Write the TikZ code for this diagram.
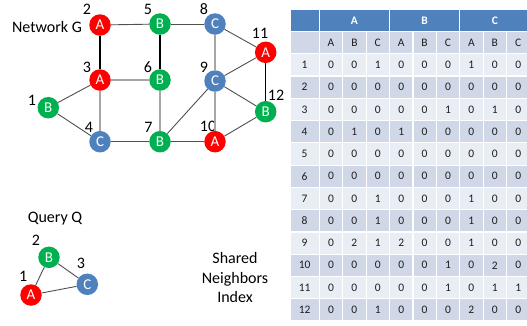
\documentclass[tikz,border=0pt]{standalone}
\usepackage{fontspec}
\setmainfont{Carlito}
\definecolor{nred}{HTML}{FF0000}
\definecolor{ngreen}{HTML}{00B050}
\definecolor{nblue}{HTML}{4F81BD}
\definecolor{hdr}{HTML}{4F81BD}
\definecolor{rowdark}{HTML}{D0D8E8}
\definecolor{rowlight}{HTML}{E9EDF4}
\definecolor{edgedark}{HTML}{505050}
\definecolor{edgelight}{HTML}{A6A6A6}
\definecolor{celltext}{HTML}{1E1E1E}
\tikzset{
  gnode/.style={circle, minimum size=21.5pt, inner sep=0pt, text=white, font=\fontsize{15}{15}\selectfont},
  anode/.style={gnode, fill=nred},
  bnode/.style={gnode, fill=ngreen},
  cnode/.style={gnode, fill=nblue},
  numlabel/.style={inner sep=0pt, font=\fontsize{16}{16}\selectfont},
  caption/.style={inner sep=0pt, font=\fontsize{16}{16}\selectfont},
  edark/.style={draw=edgedark, line width=0.9pt},
  elight/.style={draw=edgelight, line width=1.4pt},
  eblack/.style={draw=black, line width=1.2pt},
  celltxt/.style={inner sep=0pt, text=celltext, font=\fontsize{11.5}{12}\selectfont},
  hdrtxt/.style={inner sep=0pt, text=white, font=\fontsize{11.5}{12}\selectfont\bfseries},
}
\begin{document}
\begin{tikzpicture}[x=1pt,y=-1pt]
\clip (0,0) rectangle (527,325);
\fill[white] (0,0) rectangle (527,325);

% ---------- Network G ----------
\node[caption, anchor=base] (netG) at (47,32.3) {Network G};
\node[bnode] (g1) at (48.3,107.7) {B};
\node[anode] (g2) at (100,25) {A};
\node[anode] (g3) at (100,80) {A};
\node[cnode] (g4) at (100,141.7) {C};
\node[bnode] (g5) at (160,24) {B};
\node[bnode] (g6) at (160,80) {B};
\node[bnode] (g7) at (160,141.7) {B};
\node[cnode] (g8) at (215,24) {C};
\node[cnode] (g9) at (215,81) {C};
\node[anode] (g10) at (215,141.7) {A};
\node[anode] (g11) at (265.7,52.3) {A};
\node[bnode] (g12) at (265.7,111.7) {B};

\node[numlabel] (l1) at (32,100) {1};
\node[numlabel] (l2) at (87,9.5) {2};
\node[numlabel] (l3) at (87,67.5) {3};
\node[numlabel] (l4) at (89,127) {4};
\node[numlabel] (l5) at (148,9.5) {5};
\node[numlabel] (l6) at (148,67.5) {6};
\node[numlabel] (l7) at (148.5,127) {7};
\node[numlabel] (l8) at (204,9.5) {8};
\node[numlabel] (l9) at (204,67.5) {9};
\node[numlabel] (l10) at (208,126) {10};
\node[numlabel] (l11) at (260,33) {11};
\node[numlabel] (l12) at (276,95.5) {12};

\draw[edark] (g2) -- (g5);
\draw[edark] (g5) -- (g8);
\draw[eblack] (g2) -- (g3);
\draw[eblack] (g5) -- (g6);
\draw[elight] (g8) -- (g9);
\draw[edark] (g8) -- (g11);
\draw[elight] (g3) -- (g6);
\draw[edark] (g3) -- (g1);
\draw[elight] (g3) -- (g4);
\draw[elight] (g6) -- (g7);
\draw[edark] (g9) -- (g11);
\draw[edark] (g9) -- (g12);
\draw[edark] (g9) -- (g7);
\draw[elight] (g9) -- (g10);
\draw[eblack] (g11) -- (g12);
\draw[edark] (g1) -- (g4);
\draw[edark] (g4) -- (g7);
\draw[edark] (g7) -- (g10);
\draw[edark] (g10) -- (g12);

% ---------- Query Q ----------
\node[caption, anchor=base] (qQ) at (55,222.7) {Query Q};
\node[bnode] (qb) at (49,257.3) {B};
\node[cnode] (qc) at (87.3,284.3) {C};
\node[anode] (qa) at (31,295) {A};
\node[numlabel] (q2) at (36,240) {2};
\node[numlabel] (q3) at (81,263.3) {3};
\node[numlabel] (q1) at (23.3,276.7) {1};
\draw[edark] (qa) -- (qb);
\draw[edark] (qb) -- (qc);
\draw[edark] (qa) -- (qc);

\node[caption, align=center, font=\fontsize{16}{19.7}\selectfont] (sni) at (235,277.6) {Shared\\Neighbors\\Index};

% ---------- Table ----------
\def\tx{290}\def\fc{29.3}\def\cw{23.4}\def\ty{9.3}\def\rh{22.26}\def\gp{0.6}
% header row
\fill[hdr] (\tx+\gp,\ty+\gp) rectangle (\tx+\fc-\gp,\ty+\rh-\gp);
\foreach \g/\lab in {0/A,1/B,2/C}{
  \fill[hdr] (\tx+\fc+\g*3*\cw+\gp,\ty+\gp) rectangle (\tx+\fc+\g*3*\cw+3*\cw-\gp,\ty+\rh-\gp);
  \node[hdrtxt] (h\lab) at (\tx+\fc+\g*3*\cw+1.5*\cw,\ty+0.5*\rh) {\lab};
}
% sub-header row
\fill[rowdark] (\tx+\gp,\ty+\rh+\gp) rectangle (\tx+\fc-\gp,\ty+2*\rh-\gp);
\foreach \c/\lab in {0/A,1/B,2/C,3/A,4/B,5/C,6/A,7/B,8/C}{
  \fill[rowdark] (\tx+\fc+\c*\cw+\gp,\ty+\rh+\gp) rectangle (\tx+\fc+\c*\cw+\cw-\gp,\ty+2*\rh-\gp);
  \node[celltxt] (s\c) at (\tx+\fc+\c*\cw+0.5*\cw,\ty+1.5*\rh) {\lab};
}
% data rows
\foreach \r/\vals in {1/{0,0,1,0,0,0,1,0,0},2/{0,0,0,0,0,0,0,0,0},3/{0,0,0,0,0,1,0,1,0},4/{0,1,0,1,0,0,0,0,0},5/{0,0,0,0,0,0,0,0,0},6/{0,0,0,0,0,0,0,0,0},7/{0,0,1,0,0,0,1,0,0},8/{0,0,1,0,0,0,1,0,0},9/{0,2,1,2,0,0,1,0,0},10/{0,0,0,0,0,1,0,2,0},11/{0,0,0,0,0,1,0,1,1},12/{0,0,1,0,0,0,2,0,0}}{
  \pgfmathsetmacro{\ytop}{\ty+(\r+1)*\rh}
  \pgfmathtruncatemacro{\odd}{mod(\r,2)}
  \ifnum\odd=1 \def\rc{rowlight}\else\def\rc{rowdark}\fi
  \fill[\rc] (\tx+\gp,\ytop+\gp) rectangle (\tx+\fc-\gp,\ytop+\rh-\gp);
  \node[celltxt] (r\r) at (\tx+0.5*\fc,\ytop+0.5*\rh) {\r};
  \foreach \v [count=\c from 0] in \vals {
    \fill[\rc] (\tx+\fc+\c*\cw+\gp,\ytop+\gp) rectangle (\tx+\fc+\c*\cw+\cw-\gp,\ytop+\rh-\gp);
    \node[celltxt] (c\r-\c) at (\tx+\fc+\c*\cw+0.5*\cw,\ytop+0.5*\rh) {\v};
  }
}
\end{tikzpicture}
\end{document}
